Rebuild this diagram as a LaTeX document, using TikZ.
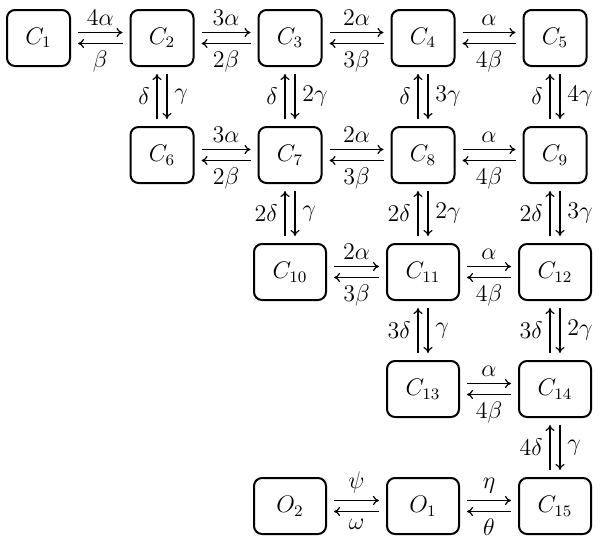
\documentclass[tikz,border=0pt]{standalone}
\usetikzlibrary{arrows.meta}

% pair of opposite rates between two states
\newcommand\ratesh[4]{%
  \draw[arrow] ([yshift=2.75pt]#1.east) -- node[above]{$#3$} ([yshift=2.75pt]#2.west);
  \draw[arrow] ([yshift=-2.75pt]#2.west) -- node[below]{$#4$} ([yshift=-2.75pt]#1.east);}
\newcommand\ratesv[4]{%
  \draw[arrow] ([xshift=-2.5pt]#2.north) -- node[left]{$#3$} ([xshift=-2.5pt]#1.south);
  \draw[arrow] ([xshift=2.5pt]#1.south) -- node[right]{$#4$} ([xshift=2.5pt]#2.north);}

\begin{document}
\begin{tikzpicture}[
    x=0.5pt, y=-0.5pt,
    every node/.style={font=\fontsize{12}{14}\selectfont},
    state/.style={rectangle, rounded corners=4pt, draw, line width=1pt,
                  minimum width=31.5pt, minimum height=28pt, inner sep=0pt},
    widestate/.style={state, minimum width=36pt},
    arrow/.style={-{To[length=3pt,width=4.5pt]}, line width=0.6pt,
                  shorten >=3.5pt, shorten <=3.5pt}
  ]
    \useasboundingbox (0,0) rectangle (601,546);

    \node[state] (c1) at (38.5,38) {$C_1$};
    \node[state] (c2) at (162,38) {$C_2$};
    \node[state] (c3) at (290,38) {$C_3$};
    \node[state] (c4) at (423,38) {$C_4$};
    \node[state] (c5) at (555,38) {$C_5$};
    \node[state] (c6) at (162,155) {$C_6$};
    \node[state] (c7) at (290,155) {$C_7$};
    \node[state] (c8) at (423,155) {$C_8$};
    \node[state] (c9) at (555,155) {$C_9$};
    \node[widestate] (c10) at (290,272) {$C_{10}$};
    \node[widestate] (c11) at (423,272) {$C_{11}$};
    \node[widestate] (c12) at (555,272) {$C_{12}$};
    \node[widestate] (c13) at (423,389) {$C_{13}$};
    \node[widestate] (c14) at (555,389) {$C_{14}$};
    \node[widestate] (c15) at (555,506) {$C_{15}$};
    \node[widestate] (o1) at (423,506) {$O_1$};
    \node[widestate] (o2) at (290,506) {$O_2$};

    \ratesh{c1}{c2}{4\alpha}{\beta}
    \ratesh{c2}{c3}{3\alpha}{2\beta}
    \ratesh{c3}{c4}{2\alpha}{3\beta}
    \ratesh{c4}{c5}{\alpha}{4\beta}
    \ratesv{c2}{c6}{\delta}{\gamma}
    \ratesv{c3}{c7}{\delta}{2\gamma}
    \ratesv{c4}{c8}{\delta}{3\gamma}
    \ratesv{c5}{c9}{\delta}{4\gamma}

    \ratesh{c6}{c7}{3\alpha}{2\beta}
    \ratesh{c7}{c8}{2\alpha}{3\beta}
    \ratesh{c8}{c9}{\alpha}{4\beta}
    \ratesv{c7}{c10}{2\delta}{\gamma}
    \ratesv{c8}{c11}{2\delta}{2\gamma}
    \ratesv{c9}{c12}{2\delta}{3\gamma}

    \ratesh{c10}{c11}{2\alpha}{3\beta}
    \ratesh{c11}{c12}{\alpha}{4\beta}
    \ratesv{c11}{c13}{3\delta}{\gamma}
    \ratesv{c12}{c14}{3\delta}{2\gamma}

    \ratesh{c13}{c14}{\alpha}{4\beta}
    \ratesv{c14}{c15}{4\delta}{\gamma}

    \ratesh{o2}{o1}{\psi}{\omega}
    \ratesh{o1}{c15}{\eta}{\theta}
  \end{tikzpicture}
\end{document}
